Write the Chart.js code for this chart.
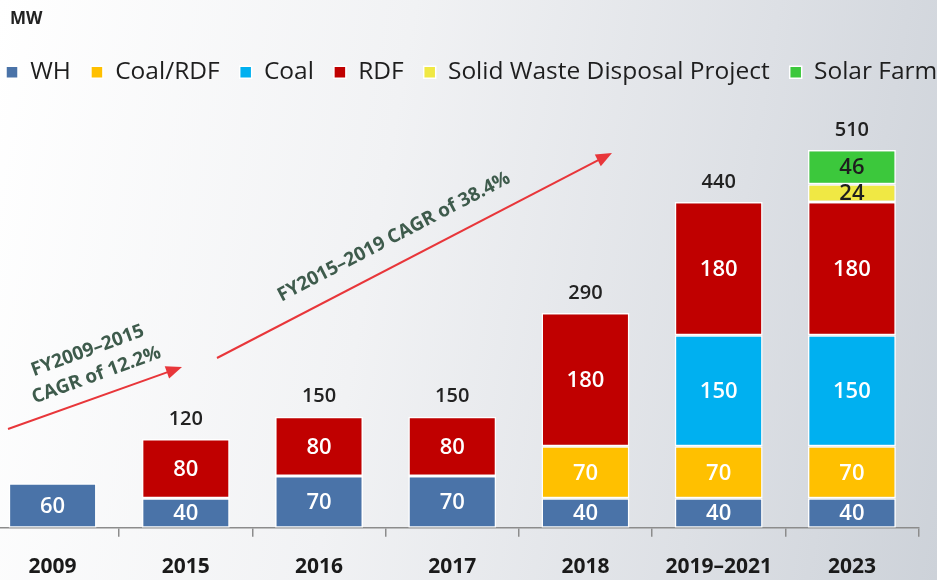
<!DOCTYPE html>
<html>
<head>
<meta charset="utf-8">
<script src="https://cdn.jsdelivr.net/npm/chart.js@4"></script>
<style>
  html, body { margin: 0; padding: 0; }
  body {
    width: 937px; height: 580px; overflow: hidden; position: relative;
    background: linear-gradient(100deg, #ffffff 0%, #f1f2f4 40%, #dde0e5 75%, #cdd2d9 100%);
  }
  #wrap { position: absolute; left: -14px; top: 0; width: 980px; height: 598px; }
</style>
</head>
<body>
<div id="wrap"><canvas id="plots"></canvas></div>
<script>
// values (MW)
const years = ['2009', '2015', '2016', '2017', '2018', '2019–2021', '2023']
const wh = [60, 40, 70, 70, 40, 40, 40]
const coalRdf = [0, 0, 0, 0, 70, 70, 70]
const coal = [0, 0, 0, 0, 0, 150, 150]
const rdf = [0, 80, 80, 80, 180, 180, 180]
const solidWaste = [0, 0, 0, 0, 0, 0, 24]
const solarFarm = [0, 0, 0, 0, 0, 0, 46]
const totals = [null, 120, 150, 150, 290, 440, 510]

const fam = '"Open Sans", "DejaVu Sans", sans-serif'

document.addEventListener('DOMContentLoaded', function () {

  function serie(label, data, color, txt) {
    return {
      label: label,
      data: data,
      backgroundColor: color,
      borderColor: '#ffffff',
      borderWidth: 1.5,
      borderSkipped: false,
      txtColor: txt
    }
  }

  // numbers inside the segments and totals above the bars
  const numeros = {
    id: 'numeros',
    afterDatasetsDraw(chart) {
      const ctx = chart.ctx
      ctx.save()
      ctx.textAlign = 'center'
      ctx.textBaseline = 'middle'
      ctx.font = '600 22px ' + fam
      chart.data.datasets.forEach(function (ds, i) {
        const meta = chart.getDatasetMeta(i)
        meta.data.forEach(function (bar, j) {
          const v = ds.data[j]
          if (!v) return
          ctx.fillStyle = ds.txtColor
          ctx.fillText(String(v), bar.x, (bar.y + bar.base) / 2 + 1)
        })
      })
      const top = chart.getDatasetMeta(chart.data.datasets.length - 1)
      const y = chart.scales.y
      ctx.font = '600 20px ' + fam
      ctx.fillStyle = '#222222'
      totals.forEach(function (t, j) {
        if (t == null) return
        ctx.fillText(String(t), top.data[j].x, y.getPixelForValue(t) - 20)
      })
      // unit label
      ctx.textAlign = 'left'
      ctx.font = 'bold 17px ' + fam
      ctx.fillText('MW', 24, 19)
      ctx.restore()
    }
  }

  function seta(ctx, x1, y1, x2, y2) {
    const ang = Math.atan2(y2 - y1, x2 - x1)
    ctx.beginPath()
    ctx.moveTo(x1, y1)
    ctx.lineTo(x2 - 10 * Math.cos(ang), y2 - 10 * Math.sin(ang))
    ctx.stroke()
    ctx.beginPath()
    ctx.moveTo(x2, y2)
    ctx.lineTo(x2 - 16 * Math.cos(ang) + 6.5 * Math.sin(ang), y2 - 16 * Math.sin(ang) - 6.5 * Math.cos(ang))
    ctx.lineTo(x2 - 16 * Math.cos(ang) - 6.5 * Math.sin(ang), y2 - 16 * Math.sin(ang) + 6.5 * Math.cos(ang))
    ctx.closePath()
    ctx.fill()
  }

  function texto(ctx, linhas, cx, cy, graus) {
    ctx.save()
    ctx.translate(cx, cy)
    ctx.rotate(-graus * Math.PI / 180)
    ctx.textAlign = 'center'
    ctx.textBaseline = 'middle'
    linhas.forEach(function (l, k) {
      ctx.fillText(l, 0, (k - (linhas.length - 1) / 2) * 26)
    })
    ctx.restore()
  }

  // CAGR arrows
  const setas = {
    id: 'setas',
    afterDatasetsDraw(chart) {
      const ctx = chart.ctx
      ctx.save()
      ctx.strokeStyle = '#e8363a'
      ctx.fillStyle = '#e8363a'
      ctx.lineWidth = 2
      seta(ctx, 22, 429, 196, 367)
      seta(ctx, 231, 358, 626, 153)
      ctx.fillStyle = '#3e5b4c'
      ctx.font = 'bold 19px ' + fam
      texto(ctx, ['FY2009–2015', 'CAGR of 12.2%'], 106, 363, 20)
      texto(ctx, ['FY2015–2019 CAGR of 38.4%'], 408, 237, 27.5)
      ctx.restore()
    }
  }

  // extra room under the legend
  const folga = {
    id: 'folga',
    beforeInit(chart) {
      const fit = chart.legend.fit
      chart.legend.fit = function () {
        fit.bind(chart.legend)()
        this.height += 26
      }
    }
  }

  const plots = document.getElementById('plots')
  new Chart(plots, {
    type: 'bar',
    data: {
      labels: years,
      datasets: [
        serie('WH', wh, '#4a73a8', '#ffffff'),
        serie('Coal/RDF', coalRdf, '#ffc000', '#ffffff'),
        serie('Coal', coal, '#00b0f0', '#ffffff'),
        serie('RDF', rdf, '#c00000', '#ffffff'),
        serie('Solid Waste Disposal Project', solidWaste, '#f0e844', '#1e1e1e'),
        serie('Solar Farm', solarFarm, '#3cc83c', '#1e1e1e')
      ]
    },
    options: {
      responsive: true,
      maintainAspectRatio: false,
      animation: false,
      layout: { padding: { left: 0, right: 0, top: 4, bottom: 0 } },
      datasets: { bar: { barPercentage: 0.66, categoryPercentage: 1 } },
      plugins: {
        tooltip: { enabled: false },
        title: { display: false },
        legend: {
          position: 'top',
          align: 'start',
          title: {
            display: true,
            text: 'MW',
            position: 'start',
            color: 'rgba(0,0,0,0)',
            font: { family: fam, size: 15, weight: 'bold' },
            padding: { top: 9, bottom: 9 }
          },
          labels: {
            boxWidth: 12,
            boxHeight: 12,
            padding: 20,
            color: '#1e1e1e',
            font: { family: fam, size: 24.5 }
          }
        }
      },
      scales: {
        x: {
          stacked: true,
          offset: true,
          border: { display: true, color: '#8c8c8c', width: 1.5 },
          grid: { display: true, offset: true, drawOnChartArea: false, drawTicks: true, tickLength: 9, color: '#8c8c8c', lineWidth: 1.5 },
          ticks: { color: '#1a1a1a', padding: 18, font: { family: fam, size: 21, weight: 'bold' }, maxRotation: 0 }
        },
        y: {
          stacked: true,
          display: false,
          min: 0,
          max: 550
        },
        margem: {
          type: 'linear',
          position: 'right',
          display: true,
          grid: { display: false },
          border: { display: false },
          ticks: { display: false },
          afterFit(s) { s.width = 47.5 }
        }
      }
    },
    plugins: [numeros, setas, folga]
  })
})
</script>
</body>
</html>
